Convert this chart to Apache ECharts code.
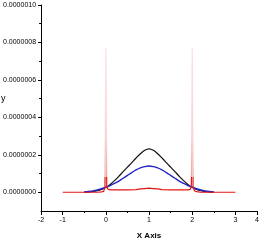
<!DOCTYPE html>
<html><head><meta charset="utf-8">
<script src="https://cdn.jsdelivr.net/npm/echarts@6/dist/echarts.min.js"></script>
<style>html,body{margin:0;padding:0;background:#fff}#c{width:267px;height:245px}</style>
</head><body><div id="c"></div>
<script>
// ---- data (y values in units of 1e-7) ----
const bellX = [-0.5,-0.4,-0.3,-0.2,-0.1,0,0.1,0.2,0.3,0.4,0.5,0.6,0.7,0.8,0.9,1.0,1.1,1.2,1.3,1.4,1.5,1.6,1.7,1.8,1.9,2.0,2.1,2.2,2.3,2.4,2.5];
const blackY = [0.01,0.02,0.04,0.08,0.15,0.26,0.42,0.62,0.85,1.10,1.34,1.58,1.83,2.06,2.24,2.32,2.24,2.06,1.83,1.58,1.34,1.10,0.85,0.62,0.42,0.26,0.15,0.08,0.04,0.02,0.01];
const blueY  = [0.02,0.04,0.07,0.12,0.19,0.27,0.36,0.47,0.60,0.75,0.90,1.05,1.19,1.30,1.37,1.40,1.37,1.30,1.19,1.05,0.90,0.75,0.60,0.47,0.36,0.27,0.19,0.12,0.07,0.04,0.02];
const redX = [-1.0,-0.5,-0.2,-0.1,-0.05,-0.02,0,0.02,0.05,0.1,0.3,0.5,0.7,0.8,0.9,1.0,1.1,1.2,1.3,1.5,1.7,1.9,1.95,1.98,2.0,2.02,2.05,2.1,2.2,2.5,3.0];
const redY = [0,0,0,0.02,0.05,0.3,7.7,0.3,0.16,0.13,0.13,0.13,0.14,0.18,0.20,0.22,0.20,0.18,0.14,0.13,0.13,0.13,0.15,0.3,7.7,0.3,0.08,0.03,0,0,0];
const xLabelValues = [-1.5,-1,0,1,2,3,3.5];
const xLabelTexts  = ['-2','-1','0','1','2','3','4'];
const xMinorValues = [-0.5,0.5,1.5,2.5];
const yLabelValues = [0,2,4,6,8,10];
const yMinorValues = [1,3,5,7,9];
const SCALE = 1e-7;

const pairs = (xs, ys) => xs.map((x,i)=>[x, ys[i]*SCALE]);
const font = 'Liberation Sans, Arial, sans-serif';

// red line: solid near the base, faint along the tall thin spikes
const redMax = Math.max(...redY);
const cut = 1 - 0.9 / redMax;
const redGradient = new echarts.graphic.LinearGradient(0, 0, 0, 1, [
  {offset:0, color:'#fbe0e0'}, {offset:cut*0.7, color:'#f9d6d6'}, {offset:cut, color:'#f1a4a4'},
  {offset:cut, color:'#e41414'}, {offset:1, color:'#e41414'}
]);

const chart = echarts.init(document.getElementById('c'), null, {renderer:'canvas'});
const axisCommon = {type:'value', min:-1.5, max:3.5, splitLine:{show:false}};
chart.setOption({
  animation:false,
  backgroundColor:'#fff',
  grid:{left:41, right:10, top:5, bottom:33, containLabel:false},
  xAxis:[
    Object.assign({}, axisCommon, {
      position:'bottom',
      name:'X Axis', nameLocation:'middle', nameGap:21,
      nameTextStyle:{fontFamily:font, fontSize:8, fontWeight:'bold', color:'#000'},
      axisLine:{show:true, onZero:false, lineStyle:{color:'#000', width:1}},
      axisTick:{show:true, inside:false, length:4, customValues:xLabelValues, lineStyle:{color:'#000'}},
      axisLabel:{show:true, customValues:xLabelValues, margin:6, fontFamily:font, fontSize:7, color:'#000',
        formatter:(v)=>{const i=xLabelValues.findIndex(a=>Math.abs(a-v)<1e-9); return i>=0?xLabelTexts[i]:'';}}
    }),
    Object.assign({}, axisCommon, {
      position:'bottom',
      axisLine:{show:false, onZero:false},
      axisTick:{show:true, inside:false, length:2, customValues:xMinorValues, lineStyle:{color:'#000'}},
      axisLabel:{show:false}
    })
  ],
  yAxis:[
    {type:'value', min:-1*SCALE, max:10*SCALE, position:'left', splitLine:{show:false},
      axisLine:{show:true, onZero:false, lineStyle:{color:'#000', width:1}},
      axisTick:{show:true, inside:false, length:3, customValues:yLabelValues.map(v=>v*SCALE), lineStyle:{color:'#000'}},
      axisLabel:{show:true, customValues:yLabelValues.map(v=>v*SCALE), margin:5, fontFamily:font, fontSize:7, color:'#000',
        formatter:(v)=>v.toFixed(7)}
    },
    {type:'value', min:-1*SCALE, max:10*SCALE, position:'left', splitLine:{show:false},
      axisLine:{show:false, onZero:false},
      axisTick:{show:true, inside:false, length:2, customValues:yMinorValues.map(v=>v*SCALE), lineStyle:{color:'#000'}},
      axisLabel:{show:false}
    }
  ],
  graphic:[{type:'text', left:1, top:94, style:{text:'y', fontFamily:font, fontSize:9, fill:'#000'}}],
  series:[
    {type:'line', name:'black', data:pairs(bellX, blackY), showSymbol:false, smooth:0.3,
      lineStyle:{color:'#111', width:1.2}, z:3},
    {type:'line', name:'blue', data:pairs(bellX, blueY), showSymbol:false, smooth:0.3,
      lineStyle:{color:'#2222c8', width:1.4}, z:3},
    {type:'line', name:'red', data:pairs(redX, redY), showSymbol:false,
      lineStyle:{width:1.2, color:redGradient}, z:4}
  ]
});
</script>
</body></html>
